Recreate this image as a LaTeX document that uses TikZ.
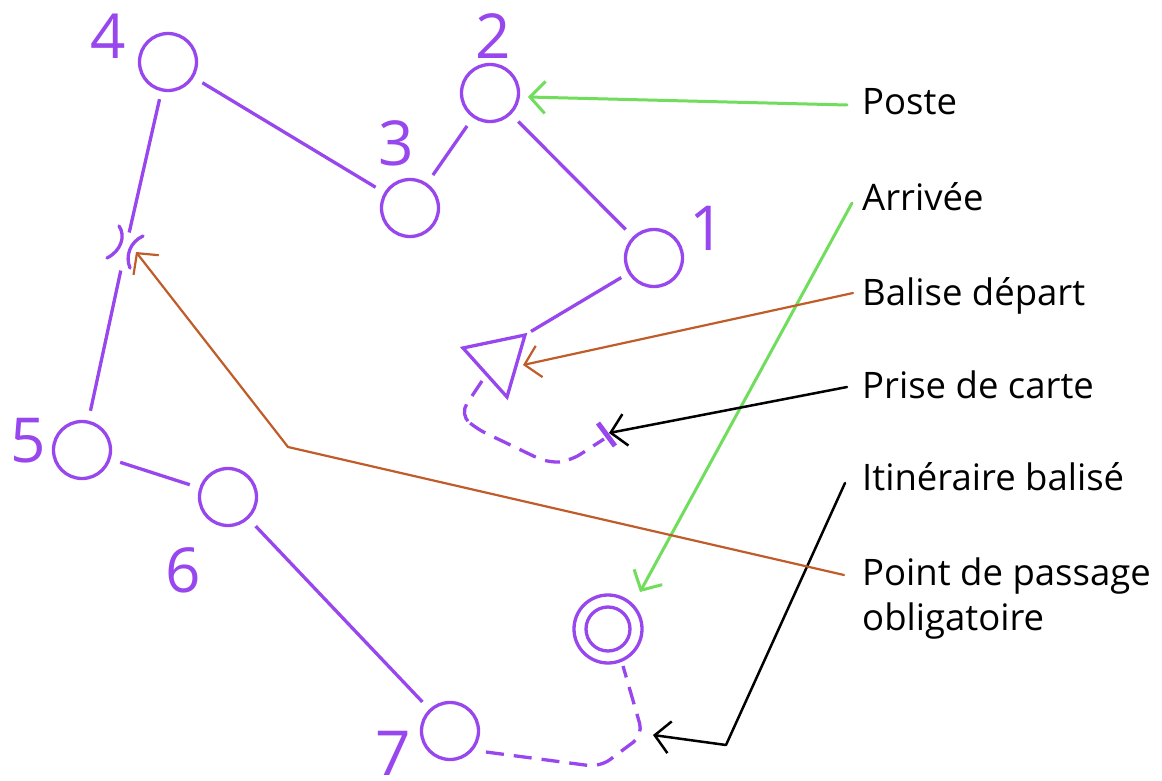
\documentclass[tikz,border=0pt]{standalone}
\usepackage{fontspec}
\setmainfont{Open Sans}
\usetikzlibrary{arrows.meta}
\definecolor{violetc}{RGB}{152,70,238}
\definecolor{greenc}{RGB}{112,222,92}
\definecolor{orangec}{RGB}{192,92,42}
\begin{document}
\begin{tikzpicture}[x=1pt,y=-1pt,
  ctrl/.style={circle,draw=violetc,line width=3.3pt,minimum size=57pt,inner sep=0pt},
  leg/.style={draw=violetc,line width=3.3pt,shorten <=10pt,shorten >=10pt},
  routeline/.style={draw=violetc,line width=3.3pt,dash pattern=on 18pt off 10pt,rounded corners=12pt},
  num/.style={text=violetc,font=\fontsize{62}{62}\selectfont,inner sep=0pt},
  lbl/.style={font=\fontsize{36.5}{44}\selectfont,inner sep=0pt,anchor=base west},
  ptr/.style={-{Straight Barb[length=15pt,width=32pt]},line cap=round,line join=round},
]
\useasboundingbox (0,0) rectangle (1162,781);
\fill[white] (0,0) rectangle (1162,781);

% controls
\node[ctrl] (c1) at (654,258) {};
\node[ctrl] (c2) at (490,93) {};
\node[ctrl] (c3) at (410,208) {};
\node[ctrl] (c4) at (168,62) {};
\node[ctrl] (c5) at (82,450) {};
\node[ctrl] (c6) at (228,497) {};
\node[ctrl] (c7) at (450,731) {};
\node[ctrl,minimum size=68pt] (fin) at (608,629) {};
\node[ctrl,minimum size=44pt] (finin) at (608,629) {};

% numbers
\node[num] (n1) at (707,228) {1};
\node[num] (n2) at (493,36) {2};
\node[num] (n3) at (396,143) {3};
\node[num] (n4) at (108,36) {4};
\node[num] (n5) at (28,441) {5};
\node[num] (n6) at (183,570) {6};
\node[num] (n7) at (393,753) {7};

% start triangle
\coordinate (tA) at (463,348);
\coordinate (tB) at (525,335);
\coordinate (tC) at (507,397);
\draw[violetc,line width=3.3pt,line join=miter] (tA) -- (tB) -- (tC) -- cycle;

% legs
\draw[leg,shorten <=7pt,shorten >=8pt] (tB) -- (c1);
\draw[leg] (c1) -- (c2);
\draw[leg] (c2) -- (c3);
\draw[leg] (c3) -- (c4);
\coordinate (pp) at (125,251);
\draw[leg,shorten <=8pt,shorten >=19pt] (c4) -- (pp);
\draw[leg,shorten <=20pt,shorten >=10pt] (pp) -- (c5);
\draw[leg] (c5) -- (c6);
\draw[leg] (c6) -- (c7);

% passage point
\draw[violetc,line width=3.3pt,line cap=round] (119,226) .. controls (126,236) and (121,251) .. (107,258);
\draw[violetc,line width=3.3pt,line cap=round] (143,236) .. controls (130,242) and (125,256) .. (130,268);

% map pickup and marked route from start
\coordinate (rs1) at (482,381);
\coordinate (pkA) at (598,423);
\coordinate (pkB) at (615,446);
\coordinate (pk) at (604,439);
\draw[routeline] (rs1) -- (460,414) -- (475,428) -- (548,463) -- (570,461) -- (pk);
\draw[violetc,line width=5pt] (pkA) -- (pkB);

% marked route to finish
\coordinate (rf1) at (486,752);
\coordinate (rfc) at (643,735);
\coordinate (rf2) at (623,666);
\draw[routeline] (rf1) -- (600,767) -- (rfc) -- (rf2);

% labels
\node[lbl] (lPoste) at (862,115) {Poste};
\node[lbl] (lArr) at (862,210) {Arrivée};
\node[lbl] (lBal) at (862,305) {Balise départ};
\node[lbl] (lPrise) at (862,398) {Prise de carte};
\node[lbl] (lIti) at (862,490) {Itinéraire balisé};
\node[lbl] (lPt) at (862,585) {Point de passage};
\node[lbl] (lObl) at (862,630) {obligatoire};

% pointers
\coordinate (sPoste) at (847,105);
\coordinate (tPoste) at (528,97);
\draw[ptr,greenc,line width=3pt] (sPoste) -- (tPoste);

\coordinate (sArr) at (852,203);
\coordinate (tArr) at (640,592);
\draw[ptr,greenc,line width=3pt] (sArr) -- (tArr);

\coordinate (sBal) at (853,293);
\coordinate (tBal) at (523,365);
\draw[ptr,orangec,line width=2.2pt] (sBal) -- (tBal);

\coordinate (sPrise) at (847,387);
\coordinate (tPrise) at (609,433);
\draw[ptr,black,line width=2.5pt] (sPrise) -- (tPrise);

\coordinate (sIti) at (845,483);
\coordinate (bIti) at (726,745);
\coordinate (tIti) at (653,735);
\draw[ptr,black,line width=2.5pt] (sIti) -- (bIti) -- (tIti);

\coordinate (sPt) at (844,575);
\coordinate (bPt) at (288,447);
\coordinate (tPt) at (136,252);
\draw[ptr,orangec,line width=2.2pt] (sPt) -- (bPt) -- (tPt);
\end{tikzpicture}
\end{document}
